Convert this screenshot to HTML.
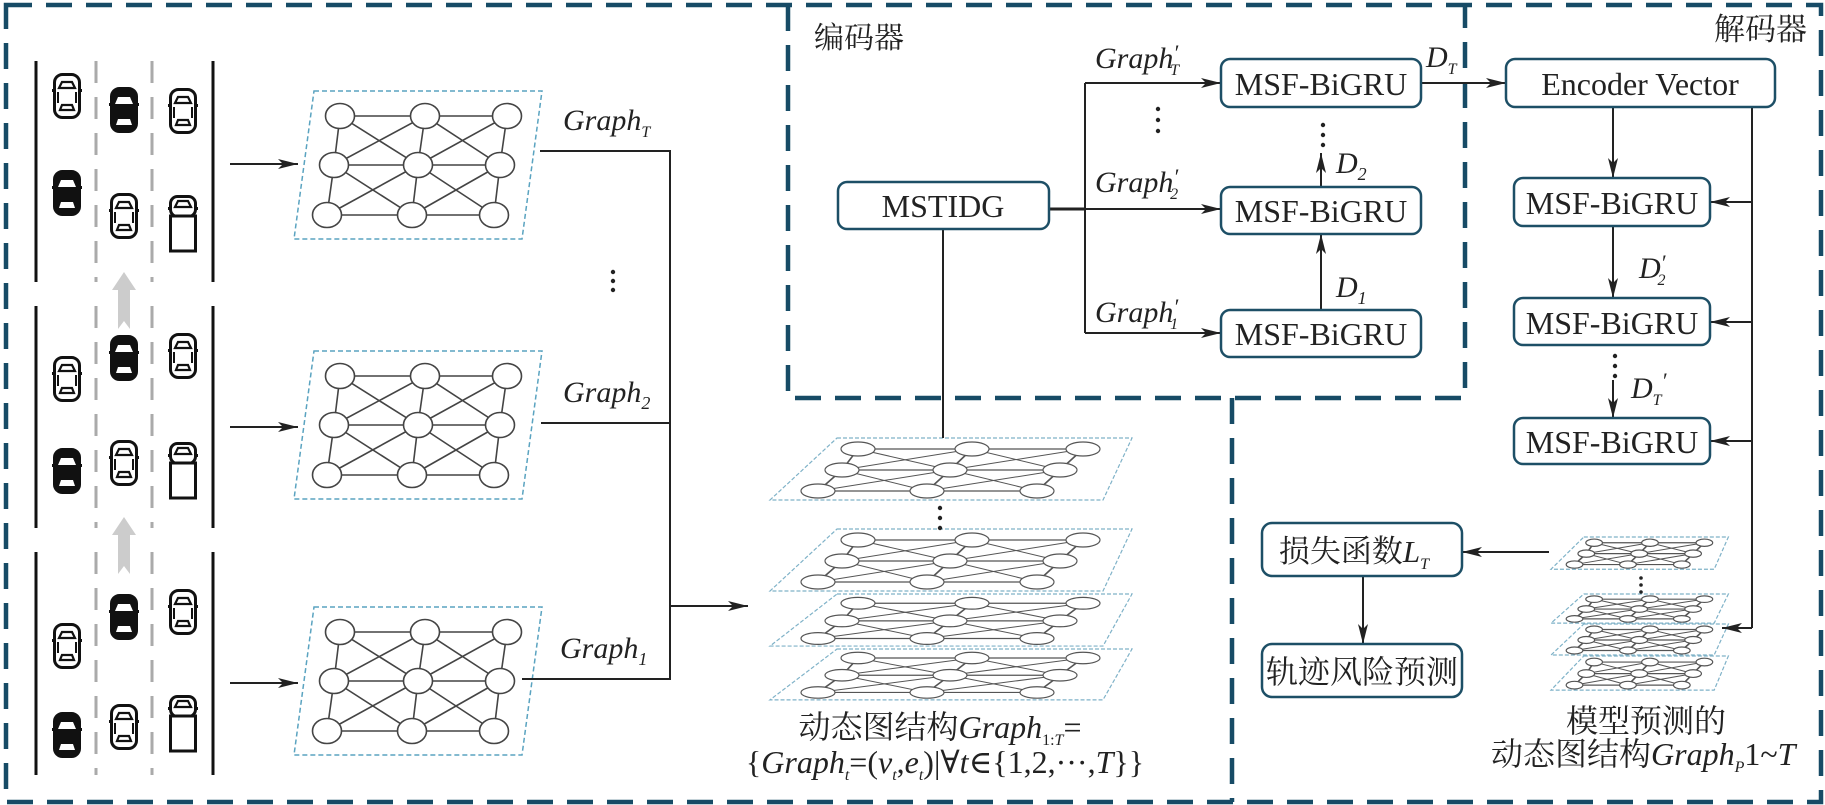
<!DOCTYPE html>
<html><head><meta charset="utf-8"><style>
html,body{margin:0;padding:0;background:#fff;}
svg{display:block;}
svg text{font-family:"Liberation Serif","Times New Roman",Times,"DejaVu Serif","Noto Serif CJK SC",serif !important;fill:#222;}
.i{font-style:italic;}
</style></head><body>
<svg id="s" width="1825" height="805" viewBox="0 0 1825 805" xmlns="http://www.w3.org/2000/svg" font-family="Liberation Serif, Times New Roman, serif">
<defs>
<marker id="ar" viewBox="0 0 20 10" refX="20" refY="5" markerWidth="20" markerHeight="10" markerUnits="userSpaceOnUse" orient="auto">
<path d="M0,0 L20,5 L0,10 L5,5 Z" fill="#222"/></marker>
</defs>
<g id="g"></g>
<g fill="none" stroke="#174b66" stroke-width="4.5" stroke-dasharray="26 14">
<rect x="6" y="5" width="1815" height="797"/>
<path d="M788,5 L788,398 L1465,398 L1465,5"/>
<path d="M1232,398 L1232,802"/>
</g>
<g stroke="#222" stroke-width="2" fill="none">
<line x1="230" y1="164" x2="298" y2="164" marker-end="url(#ar)"/>
<line x1="230" y1="427" x2="298" y2="427" marker-end="url(#ar)"/>
<line x1="230" y1="683" x2="298" y2="683" marker-end="url(#ar)"/>
<polyline points="540,151 670,151 670,679 522,679"/>
<line x1="541" y1="423" x2="670" y2="423"/>
<line x1="670" y1="606" x2="748" y2="606" marker-end="url(#ar)"/>
<line x1="943" y1="229" x2="943" y2="438"/>
<line x1="1049" y1="209" x2="1085" y2="209" stroke-width="3"/>
<line x1="1085" y1="83" x2="1085" y2="333"/>
<line x1="1085" y1="83" x2="1221" y2="83" marker-end="url(#ar)"/>
<line x1="1085" y1="209" x2="1221" y2="209" marker-end="url(#ar)"/>
<line x1="1085" y1="333" x2="1221" y2="333" marker-end="url(#ar)"/>
<line x1="1321" y1="310" x2="1321" y2="234" marker-end="url(#ar)"/>
<line x1="1321" y1="187" x2="1321" y2="153" marker-end="url(#ar)"/>
<line x1="1421" y1="83" x2="1506" y2="83" marker-end="url(#ar)"/>
<line x1="1613" y1="107" x2="1613" y2="178" marker-end="url(#ar)"/>
<line x1="1613" y1="226" x2="1613" y2="298" marker-end="url(#ar)"/>
<line x1="1613" y1="380" x2="1613" y2="418" marker-end="url(#ar)"/>
<line x1="1752" y1="107" x2="1752" y2="628"/>
<line x1="1752" y1="202" x2="1710" y2="202" marker-end="url(#ar)"/>
<line x1="1752" y1="322" x2="1710" y2="322" marker-end="url(#ar)"/>
<line x1="1752" y1="441" x2="1710" y2="441" marker-end="url(#ar)"/>
<line x1="1752" y1="628" x2="1722" y2="628" marker-end="url(#ar)"/>
<line x1="1549" y1="552" x2="1462" y2="552" marker-end="url(#ar)"/>
<line x1="1363" y1="576" x2="1363" y2="644" marker-end="url(#ar)"/>
</g>
<g fill="#222">
<circle cx="613" cy="272" r="2.2"/><circle cx="613" cy="281" r="2.2"/><circle cx="613" cy="290" r="2.2"/>
<circle cx="1158" cy="109" r="2.2"/><circle cx="1158" cy="120" r="2.2"/><circle cx="1158" cy="131" r="2.2"/>
<circle cx="1323" cy="125" r="2.2"/><circle cx="1323" cy="135" r="2.2"/><circle cx="1323" cy="145" r="2.2"/>
<circle cx="1615" cy="356" r="2.2"/><circle cx="1615" cy="366" r="2.2"/><circle cx="1615" cy="376" r="2.2"/>
<circle cx="940" cy="508" r="2.2"/><circle cx="940" cy="518" r="2.2"/><circle cx="940" cy="528" r="2.2"/>
<circle cx="1641" cy="578" r="1.8"/><circle cx="1641" cy="585" r="1.8"/><circle cx="1641" cy="592" r="1.8"/>
</g>
<g fill="#fff" stroke="#1d4f66" stroke-width="2.5">
<rect x="838" y="182" width="211" height="47" rx="9"/>
<rect x="1221" y="59" width="200" height="48" rx="9"/>
<rect x="1221" y="187" width="200" height="47" rx="9"/>
<rect x="1221" y="310" width="200" height="47" rx="9"/>
<rect x="1506" y="59" width="269" height="48" rx="9"/>
<rect x="1514" y="178" width="196" height="48" rx="9"/>
<rect x="1514" y="298" width="196" height="47" rx="9"/>
<rect x="1514" y="418" width="196" height="46" rx="9"/>
<rect x="1262" y="523" width="200" height="53" rx="10"/>
<rect x="1262" y="644" width="200" height="53" rx="10"/>
</g>
<g font-size="32" text-anchor="middle">
<text x="943" y="217">MSTIDG</text>
<text x="1321" y="95">MSF-BiGRU</text>
<text x="1321" y="222">MSF-BiGRU</text>
<text x="1321" y="345">MSF-BiGRU</text>
<text x="1640" y="95">Encoder Vector</text>
<text x="1612" y="214">MSF-BiGRU</text>
<text x="1612" y="334">MSF-BiGRU</text>
<text x="1612" y="453">MSF-BiGRU</text>
<text x="1354" y="562" font-size="31">损失函数<tspan class="i">L</tspan><tspan font-size="16" class="i" dy="7">T</tspan></text>
<text x="1362" y="683" font-size="32">轨迹风险预测</text>
<text x="1646" y="732" font-size="32">模型预测的</text>
</g>
<text x="814" y="48" font-size="30">编码器</text>
<text x="1714" y="40" font-size="31">解码器</text>
<g font-size="30">
<text x="563" y="130" class="i">Graph<tspan font-size="16" dy="7">T</tspan></text>
<text x="563" y="402" class="i">Graph<tspan font-size="18" dy="7">2</tspan></text>
<text x="560" y="658" class="i">Graph<tspan font-size="18" dy="7">1</tspan></text>
<text x="1095" y="68" class="i">Graph<tspan font-size="22" dy="-8">′</tspan><tspan font-size="16" dx="-8" dy="15">T</tspan></text>
<text x="1095" y="192" class="i">Graph<tspan font-size="22" dy="-8">′</tspan><tspan font-size="16" dx="-8" dy="15">2</tspan></text>
<text x="1095" y="322" class="i">Graph<tspan font-size="22" dy="-8">′</tspan><tspan font-size="16" dx="-8" dy="15">1</tspan></text>
<text x="1426" y="67" class="i">D<tspan font-size="16" dy="7">T</tspan></text>
<text x="1336" y="173" class="i">D<tspan font-size="18" dy="7">2</tspan></text>
<text x="1336" y="297" class="i">D<tspan font-size="18" dy="7">1</tspan></text>
<text x="1639" y="278" class="i">D<tspan font-size="22" dy="-8">′</tspan><tspan font-size="16" dx="-8" dy="15">2</tspan></text>
<text x="1631" y="398" class="i">D<tspan font-size="16" dy="7">T</tspan><tspan font-size="22" dy="-17">′</tspan></text>
</g>
<text x="940" y="738" font-size="32" text-anchor="middle">动态图结构<tspan class="i">Graph</tspan><tspan font-size="16" dy="7">1:</tspan><tspan font-size="16" class="i">T</tspan><tspan dy="-7">=</tspan></text>
<text x="945" y="773" font-size="32" text-anchor="middle">{<tspan class="i">Graph</tspan><tspan font-size="16" class="i" dy="7">t</tspan><tspan dy="-7">=(</tspan><tspan class="i">v</tspan><tspan font-size="16" class="i" dy="7">t</tspan><tspan dy="-7">,</tspan><tspan class="i">e</tspan><tspan font-size="16" class="i" dy="7">t</tspan><tspan dy="-7">)|∀</tspan><tspan class="i">t</tspan>∈{1,2,···,<tspan class="i">T</tspan>}}</text>
<text x="1491" y="765" font-size="32">动态图结构<tspan class="i">Graph</tspan><tspan font-size="16" class="i" dy="7">P</tspan><tspan dy="-7">1~</tspan><tspan class="i">T</tspan></text>
</svg>
<script>
var NS="http://www.w3.org/2000/svg",G=document.getElementById("g");
function el(n,a,p){var e=document.createElementNS(NS,n);for(var k in a)e.setAttribute(k,a[k]);(p||G).appendChild(e);return e;}
[[61,282],[306,528],[552,775]].forEach(function(r){
 el("line",{x1:36,y1:r[0],x2:36,y2:r[1],stroke:"#111","stroke-width":3});
 el("line",{x1:213,y1:r[0],x2:213,y2:r[1],stroke:"#111","stroke-width":3});
 el("line",{x1:96,y1:r[0],x2:96,y2:r[1],stroke:"#aaa","stroke-width":3,"stroke-dasharray":"22 14"});
 el("line",{x1:152,y1:r[0],x2:152,y2:r[1],stroke:"#aaa","stroke-width":3,"stroke-dasharray":"22 14"});
});
[272,517].forEach(function(y){el("polygon",{points:"124,"+y+" 136,"+(y+18)+" 130,"+(y+18)+" 130,"+(y+57)+" 124,"+(y+49)+" 118,"+(y+57)+" 118,"+(y+18)+" 112,"+(y+18),fill:"#ccc"});});
function car(dark,cx,cy){
 var g=el("g",{transform:"translate("+(cx-15)+","+(cy-23)+")"});
 el("rect",{x:0,y:16,width:30,height:3,fill:"#111"},g);
 el("rect",{x:2.5,y:1.5,width:25,height:43,rx:8,fill:dark?"#111":"#fff",stroke:"#111","stroke-width":3},g);
 if(dark){
  el("path",{d:"M6,17 L24,17 L21,10 L9,10 Z",fill:"#fff"},g);
  el("path",{d:"M7,38 L23,38 L21,32 L9,32 Z",fill:"#fff"},g);
 }else{
  el("path",{d:"M7,15 L23,15 L20,9 L10,9 Z",fill:"#fff",stroke:"#111","stroke-width":2.2},g);
  el("path",{d:"M8,37 L22,37 L20,32 L10,32 Z",fill:"#fff",stroke:"#111","stroke-width":2.2},g);
  el("line",{x1:6,y1:19,x2:6,y2:30,stroke:"#111","stroke-width":2},g);
  el("line",{x1:24,y1:19,x2:24,y2:30,stroke:"#111","stroke-width":2},g);
 }
}
function truck(cx,top){
 var g=el("g",{transform:"translate("+(cx-15)+","+top+")"});
 el("rect",{x:0,y:12,width:30,height:3,fill:"#111"},g);
 el("rect",{x:2.5,y:1.5,width:25,height:20,rx:7,fill:"#fff",stroke:"#111","stroke-width":3},g);
 el("path",{d:"M7,12 L23,12 L20,6 L10,6 Z",fill:"#fff",stroke:"#111","stroke-width":2.2},g);
 el("rect",{x:2.5,y:21,width:25,height:35,fill:"#fff",stroke:"#111","stroke-width":3},g);
}
[[96,110,111,193,216,195],[379,358,356,471,463,442],[646,617,612,735,727,695]].forEach(function(b){
 car(0,67,b[0]);car(1,124,b[1]);car(0,183,b[2]);car(1,67,b[3]);car(0,124,b[4]);truck(183,b[5]);
});
[0,260,516].forEach(function(d){
 el("polygon",{points:"314,"+(91+d)+" 542,"+(91+d)+" 522,"+(239+d)+" 294,"+(239+d),fill:"none",stroke:"#5aa3c0","stroke-width":1.5,"stroke-dasharray":"5 3"});
 var P=[[[340,116],[425,116],[507,116]],[[334,165],[418,165],[500,165]],[[327,215],[412,215],[494,215]]];
 function L(a,b){el("line",{x1:a[0],y1:a[1]+d,x2:b[0],y2:b[1]+d,stroke:"#444","stroke-width":1.6});}
 for(var r=0;r<3;r++)for(var c=0;c<3;c++){
  if(c<2)L(P[r][c],P[r][c+1]);
  if(r<2){L(P[r][c],P[r+1][c]);if(c<2){L(P[r][c],P[r+1][c+1]);L(P[r][c+1],P[r+1][c]);}}
 }
 for(var r=0;r<3;r++)for(var c=0;c<3;c++)el("ellipse",{cx:P[r][c][0],cy:P[r][c][1]+d,rx:14.5,ry:12.5,fill:"#fff",stroke:"#444","stroke-width":1.6});
});
function layer(x0,y0,s,sy){
 function X(x){return x0+x*s;}function Y(y){return y0+y*sy;}
 el("polygon",{points:X(67)+","+Y(0)+" "+X(362)+","+Y(0)+" "+X(333)+","+Y(62)+" "+X(0)+","+Y(62),fill:"#fff","fill-opacity":0.93,stroke:"#7fb2c8","stroke-width":1.2,"stroke-dasharray":"4 2"});
 var P=[[[88,11],[202,11],[313,11]],[[72,32],[180,32],[290,32]],[[48,53],[157,53],[267,53]]];
 function L(a,b,w){el("line",{x1:X(a[0]),y1:Y(a[1]),x2:X(b[0]),y2:Y(b[1]),stroke:"#555","stroke-width":w});}
 for(var r=0;r<3;r++)for(var c=0;c<3;c++){
  if(c<2)L(P[r][c],P[r][c+1],1.2);
  if(r<2){L(P[r][c],P[r+1][c],1.6);if(c<2){L(P[r][c],P[r+1][c+1],1);L(P[r][c+1],P[r+1][c],1);}}
 }
 for(var r=0;r<3;r++)for(var c=0;c<3;c++)el("ellipse",{cx:X(P[r][c][0]),cy:Y(P[r][c][1]),rx:17*s,ry:7*sy,fill:"#fff",stroke:"#555","stroke-width":1.2});
}
layer(770,649,1,0.82);layer(770,594,1,0.84);layer(770,529,1,1);layer(770,438,1,1);
layer(1551,656,0.49,0.55);layer(1551,624,0.49,0.5);layer(1551,594,0.49,0.47);layer(1551,537,0.49,0.52);
</script>
</body></html>
